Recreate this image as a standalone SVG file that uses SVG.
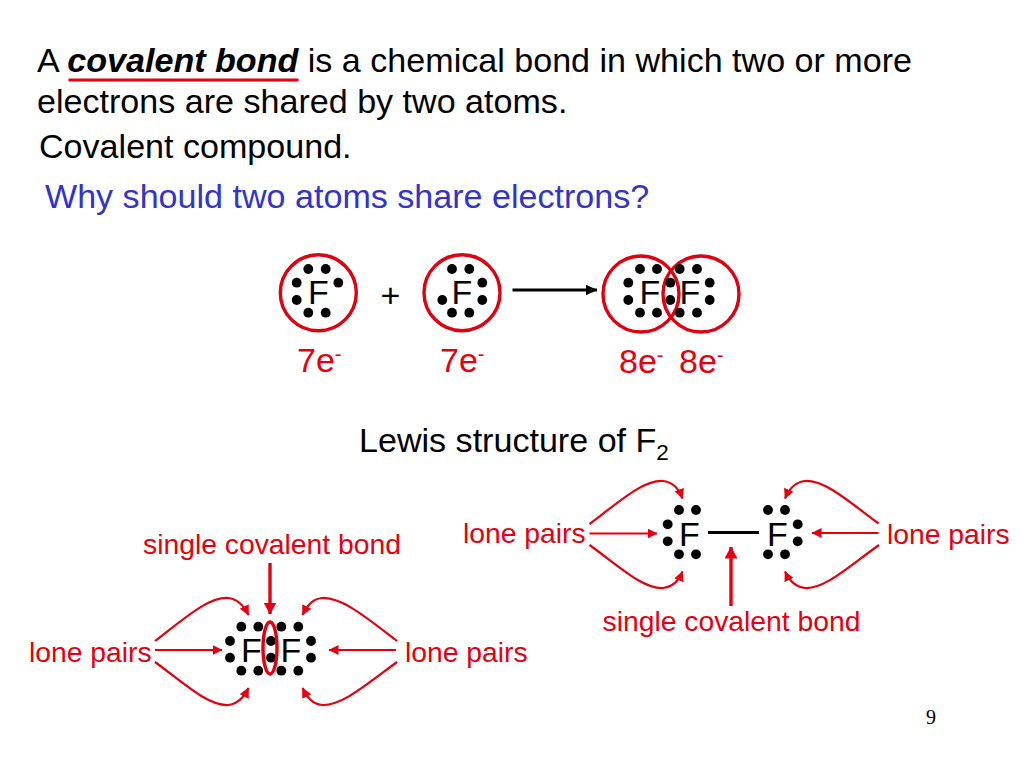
<svg xmlns="http://www.w3.org/2000/svg" width="1024" height="768" viewBox="0 0 1024 768">
<defs>
<marker id="hr" markerUnits="userSpaceOnUse" markerWidth="12" markerHeight="12" refX="9.5" refY="5" orient="auto"><path d="M0 0L10 5L0 10Z" fill="#e6000f"/></marker>
<marker id="hb" markerUnits="userSpaceOnUse" markerWidth="14" markerHeight="14" refX="11.5" refY="6.5" orient="auto"><path d="M0 0L12 6.5L0 13Z" fill="#e6000f"/></marker>
<marker id="hk" markerUnits="userSpaceOnUse" markerWidth="14" markerHeight="14" refX="11.5" refY="5.5" orient="auto"><path d="M0 0L12 5.5L0 11Z" fill="#000"/></marker>
<circle id="d" r="4.9" fill="#000"/>
</defs>
<style>
text{font-family:"Liberation Sans",Arial,sans-serif;fill:#000}
.t{font-size:34.1px}
.f{font-size:34px;text-anchor:middle}
.r{fill:#e6000f}
.m{font-size:34px}
.s{font-size:28.3px}
.ring{fill:none;stroke:#e0000f;stroke-width:3.4}
.c{fill:none;stroke:#e6000f;stroke-width:2.2}
.a{marker-end:url(#hr)}
.b{fill:none;stroke:#e6000f;stroke-width:3.4;marker-end:url(#hb)}
</style>
<rect width="1024" height="768" fill="#fff"/>
<g id="heading">
<text class="t" x="37" y="72">A <tspan font-weight="bold" font-style="italic">covalent bond</tspan> is a chemical bond in which two or more</text>
<text class="t" x="37" y="113">electrons are shared by two atoms.</text>
<text class="t" x="39" y="158">Covalent compound.</text>
<text class="t" x="45" y="208" style="fill:#3333cc">Why should two atoms share electrons?</text>
<line x1="68.5" y1="80" x2="298.5" y2="80" stroke="#e6000f" stroke-width="3"/>
</g>
<g id="atom-f1">
<circle class="ring" cx="318.3" cy="292.8" r="38"/>
<use href="#d" x="308.3" y="269"/><use href="#d" x="325.7" y="269"/><use href="#d" x="296.7" y="282.7"/><use href="#d" x="296.7" y="300"/><use href="#d" x="338.3" y="282.7"/><use href="#d" x="308.3" y="312.7"/><use href="#d" x="325.7" y="312.7"/>
<text class="f" x="318.5" y="304">F</text>
<text class="m r" x="297" y="372">7e<tspan font-size="20" dy="-11">-</tspan></text>
</g>
<text id="plus" x="380.5" y="306.5" font-size="34">+</text>
<g id="atom-f2">
<circle class="ring" cx="462" cy="292.7" r="38"/>
<use href="#d" x="452" y="269"/><use href="#d" x="469.3" y="269"/><use href="#d" x="482.3" y="282.7"/><use href="#d" x="482.3" y="300"/><use href="#d" x="442.3" y="300"/><use href="#d" x="452" y="312.7"/><use href="#d" x="469.3" y="312.7"/>
<text class="f" x="462" y="304">F</text>
<text class="m r" x="440" y="372">7e<tspan font-size="20" dy="-11">-</tspan></text>
</g>
<g id="molecule-f2">
<circle class="ring" cx="641" cy="294" r="38"/>
<circle class="ring" cx="701" cy="294" r="38"/>
<use href="#d" x="640" y="269"/><use href="#d" x="657" y="269"/><use href="#d" x="628.3" y="282.7"/><use href="#d" x="628.3" y="300"/><use href="#d" x="670.3" y="282.7"/><use href="#d" x="670.3" y="300"/><use href="#d" x="640" y="312.7"/><use href="#d" x="657" y="312.7"/>
<use href="#d" x="679.7" y="269"/><use href="#d" x="697" y="269"/><use href="#d" x="709.7" y="282.7"/><use href="#d" x="709.7" y="300"/><use href="#d" x="679.7" y="312.7"/><use href="#d" x="697" y="312.7"/>
<text class="f" x="650" y="304">F</text>
<text class="f" x="690" y="304">F</text>
<text class="m r" x="619" y="373">8e<tspan font-size="20" dy="-11">-</tspan></text>
<text class="m r" x="679" y="373">8e<tspan font-size="20" dy="-11">-</tspan></text>
</g>
<text id="lewis-title" class="t" x="359" y="452">Lewis structure of F<tspan font-size="22.5" dy="8">2</tspan></text>
<g id="lewis-left">
<use href="#d" x="241.3" y="626.7"/><use href="#d" x="258.3" y="626.7"/><use href="#d" x="230" y="641"/><use href="#d" x="230" y="657.7"/><use href="#d" x="271" y="641"/><use href="#d" x="271" y="657.7"/><use href="#d" x="241.3" y="670.7"/><use href="#d" x="258.3" y="670.7"/>
<use href="#d" x="281.3" y="626.7"/><use href="#d" x="298.3" y="626.7"/><use href="#d" x="311" y="641"/><use href="#d" x="311" y="657.7"/><use href="#d" x="281.3" y="670.7"/><use href="#d" x="298.3" y="670.7"/>
<text class="f" x="251.5" y="662">F</text>
<text class="f" x="291" y="662">F</text>
<ellipse class="ring" cx="270" cy="648" rx="7" ry="26"/>
</g>
<g id="lewis-right">
<use href="#d" x="679" y="510"/><use href="#d" x="696" y="510"/><use href="#d" x="667.7" y="524.3"/><use href="#d" x="667.7" y="541.3"/><use href="#d" x="679" y="554.3"/><use href="#d" x="696" y="554.3"/>
<use href="#d" x="768" y="510"/><use href="#d" x="785" y="510"/><use href="#d" x="797.7" y="524.3"/><use href="#d" x="797.7" y="541.3"/><use href="#d" x="768" y="554.3"/><use href="#d" x="785" y="554.3"/>
<text class="f" x="689.5" y="546">F</text>
<text class="f" x="777.5" y="546">F</text>
<line x1="708" y1="532.5" x2="759" y2="532.5" stroke="#000" stroke-width="3"/>
</g>
<g id="labels">
<text class="s r" x="143" y="553.5">single covalent bond</text>
<text class="s r" x="29" y="661.5">lone pairs</text>
<text class="s r" x="405" y="661.5">lone pairs</text>
<text class="s r" x="463" y="542.5">lone pairs</text>
<text class="s r" x="887" y="543.5">lone pairs</text>
<text class="s r" x="602.5" y="630.5">single covalent bond</text>
</g>
<g id="connectors">
<line x1="512.5" y1="290" x2="597" y2="290" stroke="#000" stroke-width="3" marker-end="url(#hk)"/>
<path class="b" d="M270 563V614"/>
<path class="b" d="M731 606V547"/>
<path class="c a" d="M155 641C185 618 208 597 228 598C238 599 244 606 248.5 615"/>
<path class="c a" d="M155 650H222"/>
<path class="c a" d="M155 662C185 684 208 706 228 705C238 704 244 697 248.5 688"/>
<path class="c a" d="M397 641C367 618 342 597 322 598C312 599 307 606 302.5 615"/>
<path class="c a" d="M396 650H329"/>
<path class="c a" d="M397 662C367 684 342 706 322 705C312 704 307 697 302.5 688"/>
<path class="c a" d="M589.5 524C620 501 643 480 663 481C673 482 679 489 682.5 498.5"/>
<path class="c a" d="M589.5 533.5H657"/>
<path class="c a" d="M589.5 545C620 567 643 589 663 588C673 587 679 580 682.5 571.5"/>
<path class="c a" d="M878.5 523.5C848 501 825 480 805 481C795 482 789 489 785 498.5"/>
<path class="c a" d="M878.5 533H812"/>
<path class="c a" d="M879 545C848 567 825 589 805 588C795 587 789 580 785 571.5"/>
</g>
<text id="page-number" x="926" y="724" font-size="20" style="font-family:'Liberation Serif',serif">9</text>
</svg>
